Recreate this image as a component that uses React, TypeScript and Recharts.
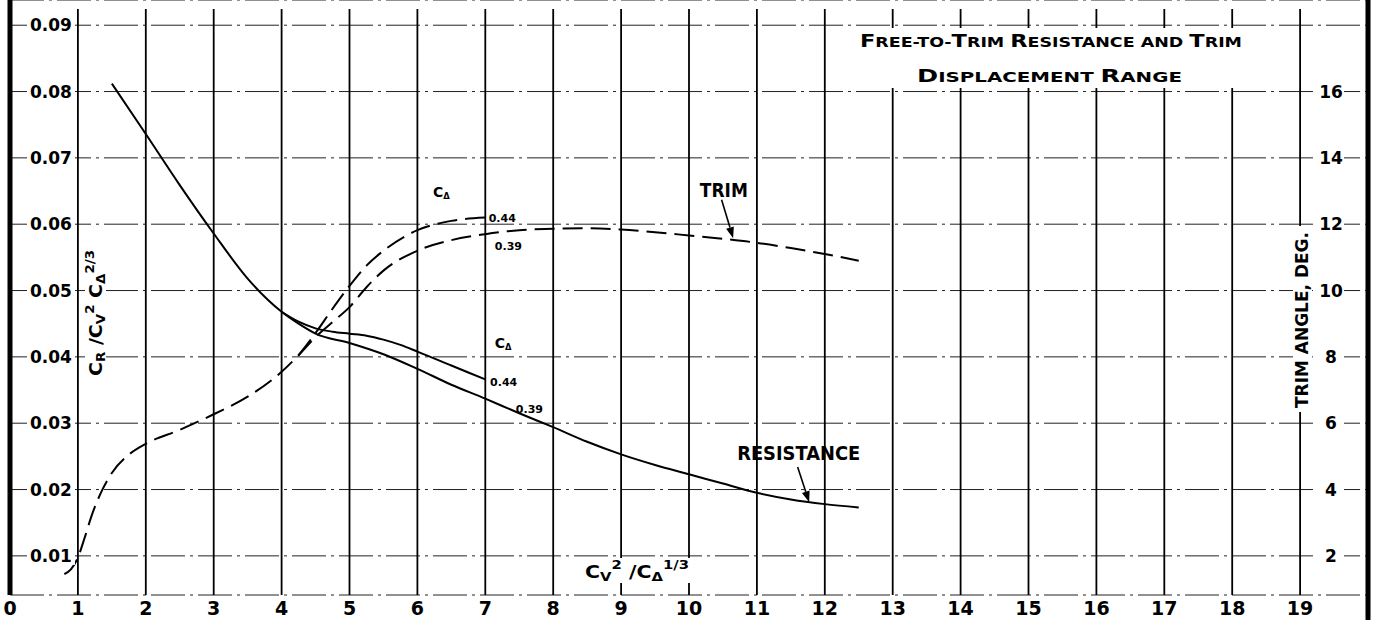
import React from 'react';
import {
  ComposedChart,
  Line,
  XAxis,
  YAxis,
  CartesianGrid,
  ReferenceLine,
  ReferenceDot,
} from 'recharts';

// ---------- data ----------
const xTicks = [0, 1, 2, 3, 4, 5, 6, 7, 8, 9, 10, 11, 12, 13, 14, 15, 16, 17, 18, 19];
const leftTicks = [0.01, 0.02, 0.03, 0.04, 0.05, 0.06, 0.07, 0.08, 0.09];
const rightTicks = [2, 4, 6, 8, 10, 12, 14, 16];

// Resistance, C_delta = 0.39 (full curve)
const resX39 = [1.5, 2, 2.5, 3, 3.5, 4, 4.25, 4.5, 5, 5.5, 6, 6.5, 7, 7.5, 8, 8.5, 9, 9.5, 10, 10.5, 11, 11.5, 12, 12.5];
const res39 = [0.0812, 0.0736, 0.0659, 0.0586, 0.0518, 0.0468, 0.0450, 0.0435, 0.0421, 0.0404, 0.0382, 0.0358, 0.0337, 0.0315, 0.0294, 0.0272, 0.0253, 0.0237, 0.0223, 0.0209, 0.0195, 0.0185, 0.0178, 0.0173];
// Resistance, C_delta = 0.44 (branch)
const resX44 = [4, 4.25, 4.5, 4.75, 5, 5.25, 5.5, 5.75, 6, 6.5, 7];
const res44 = [0.0468, 0.0453, 0.0443, 0.0438, 0.0435, 0.0432, 0.0426, 0.0418, 0.0408, 0.0387, 0.0366];
// Trim angle (deg), C_delta = 0.39 (full curve)
const trimX39 = [0.8, 0.9, 1, 1.1, 1.2, 1.35, 1.5, 1.75, 2, 2.5, 3, 3.5, 4, 4.25, 4.5, 4.75, 5, 5.25, 5.5, 6, 6.5, 7, 7.5, 8, 8.5, 9, 9.5, 10, 10.5, 11, 11.5, 12, 12.5];
const trim39 = [1.45, 1.6, 1.95, 2.55, 3.2, 3.95, 4.5, 5.05, 5.38, 5.8, 6.27, 6.8, 7.55, 8.05, 8.6, 9.05, 9.5, 10.1, 10.6, 11.2, 11.52, 11.7, 11.82, 11.86, 11.88, 11.84, 11.76, 11.66, 11.56, 11.44, 11.28, 11.1, 10.9];
// Trim angle (deg), C_delta = 0.44 (branch)
const trimX44 = [4.25, 4.5, 4.75, 5, 5.25, 5.5, 6, 6.5, 7];
const trim44 = [8.05, 8.72, 9.45, 10.14, 10.75, 11.2, 11.82, 12.1, 12.2];

const toPts = (xs: number[], ys: number[]) => xs.map((x, i) => ({ x, y: ys[i] }));
const resData39 = toPts(resX39, res39);
const resData44 = toPts(resX44, res44);
const trimData39 = toPts(trimX39, trim39);
const trimData44 = toPts(trimX44, trim44);

// ---------- styling ----------
const FONT = "'DejaVu Sans', 'Liberation Sans', sans-serif";
const W = 1376;
const H = 620;

const XTick = (p: any) => (
  <text x={p.x} y={615} textAnchor="middle" fontFamily={FONT} fontWeight="bold" fontSize={19} fill="#000">
    {p.payload.value}
  </text>
);

const LeftTick = (p: any) => (
  <g>
    <rect x={27} y={p.y - 9} width={48} height={18} fill="#fff" />
    <text x={30} y={p.y} dy="0.36em" fontFamily={FONT} fontWeight="bold" fontSize={17} fill="#000">
      {Number(p.payload.value).toFixed(2)}
    </text>
  </g>
);

const RightTick = (p: any) => (
  <g>
    <rect x={1318} y={p.y - 9} width={26} height={18} fill="#fff" />
    <text x={1331} y={p.y} dy="0.36em" textAnchor="middle" fontFamily={FONT} fontWeight="bold" fontSize={17} fill="#000">
      {p.payload.value}
    </text>
  </g>
);

const arrowShape = (p: any) => {
  const { x1, y1, x2, y2 } = p;
  const ang = Math.atan2(y2 - y1, x2 - x1);
  const L = 11;
  const Wd = 4;
  const bx = x2 - L * Math.cos(ang);
  const by = y2 - L * Math.sin(ang);
  const px = -Math.sin(ang) * Wd;
  const py = Math.cos(ang) * Wd;
  return (
    <g>
      <line x1={x1} y1={y1} x2={bx} y2={by} stroke="#000" strokeWidth={1.6} />
      <polygon points={`${x2},${y2} ${bx + px},${by + py} ${bx - px},${by - py}`} fill="#000" />
    </g>
  );
};

const note = (key: string, x: number, y: number, content: React.ReactNode) => (
  <ReferenceDot
    key={key}
    yAxisId="left"
    x={x}
    y={y}
    r={0}
    ifOverflow="visible"
    shape={(p: any) => <g transform={`translate(${p.cx},${p.cy})`}>{content}</g>}
  />
);

const CDelta = ({ size = 14 }: { size?: number }) => (
  <text x={0} y={0} fontFamily={FONT} fontWeight="bold" fontSize={size} fill="#000">
    C<tspan fontSize={size * 0.6} dy={2}>Δ</tspan>
  </text>
);

const small = (s: string) => (
  <text x={0} y={0} fontFamily={FONT} fontWeight="bold" fontSize={11} fill="#000">
    {s}
  </text>
);

export default function App() {
  return (
    <div style={{ position: 'absolute', left: 0, top: 0, width: W, height: H, background: '#fff' }}>
      <div style={{ position: 'absolute', left: 0, top: 0 }}>
        <ComposedChart width={W} height={H} margin={{ top: 0, right: 0, left: 0, bottom: 0 }}>
          <CartesianGrid
            yAxisId="left"
            vertical={false}
            stroke="#222"
            strokeWidth={1}
            strokeDasharray="34 5 3 5"
          />
          <CartesianGrid
            yAxisId="left"
            horizontal={false}
            vertical={(p: any) => (
              <line key={`v-${p.index}-${p.x1}`} x1={p.x1} x2={p.x2} y1={p.y1 + 9} y2={p.y2} stroke="#000" strokeWidth={1.8} />
            )}
          />
          <XAxis
            dataKey="x"
            type="number"
            domain={[0, 20]}
            ticks={xTicks}
            interval={0}
            height={25}
            axisLine={false}
            tickLine={false}
            tick={XTick}
            allowDataOverflow
          />
          <YAxis
            yAxisId="left"
            type="number"
            domain={[0.0041, 0.0938]}
            ticks={leftTicks}
            interval={0}
            width={10}
            axisLine={false}
            tickLine={false}
            tick={LeftTick}
            allowDataOverflow
          />
          <YAxis
            yAxisId="trim"
            orientation="right"
            type="number"
            domain={[0.82, 18.76]}
            ticks={rightTicks}
            interval={0}
            width={8}
            axisLine={false}
            tickLine={false}
            tick={RightTick}
            allowDataOverflow
          />
          <ReferenceLine yAxisId="left" x={0} stroke="#000" strokeWidth={5} />

          <Line data={resData39} dataKey="y" yAxisId="left" type="monotone" stroke="#000" strokeWidth={2} dot={false} isAnimationActive={false} />
          <Line data={resData44} dataKey="y" yAxisId="left" type="monotone" stroke="#000" strokeWidth={2} dot={false} isAnimationActive={false} />
          <Line data={trimData39} dataKey="y" yAxisId="trim" type="monotone" stroke="#000" strokeWidth={2} strokeDasharray="20 8" dot={false} isAnimationActive={false} />
          <Line data={trimData44} dataKey="y" yAxisId="trim" type="monotone" stroke="#000" strokeWidth={2} strokeDasharray="20 8" dot={false} isAnimationActive={false} />

          {/* annotations for trim */}
          {note('tc', 6.23, 0.0641, <CDelta />)}
          {note('t44', 7.05, 0.0603, small('0.44'))}
          {note('t39', 7.14, 0.0561, small('0.39'))}
          {note('tl', 10.16, 0.0641, (
            <text x={0} y={0} fontFamily={FONT} fontWeight="bold" fontSize={19} fill="#000" textLength={48} lengthAdjust="spacingAndGlyphs">TRIM</text>
          ))}
          <ReferenceLine yAxisId="left" segment={[{ x: 10.48, y: 0.0637 }, { x: 10.65, y: 0.0579 }]} shape={arrowShape} ifOverflow="visible" />

          {/* annotations for resistance */}
          {note('rc', 7.14, 0.0413, <CDelta />)}
          {note('r44', 7.07, 0.0356, small('0.44'))}
          {note('r39', 7.45, 0.0315, small('0.39'))}
          {note('rl', 10.71, 0.0245, (
            <text x={0} y={0} fontFamily={FONT} fontWeight="bold" fontSize={20} fill="#000" textLength={123} lengthAdjust="spacingAndGlyphs">RESISTANCE</text>
          ))}
          <ReferenceLine yAxisId="left" segment={[{ x: 11.6, y: 0.0234 }, { x: 11.77, y: 0.0181 }]} shape={arrowShape} ifOverflow="visible" />
        </ComposedChart>
      </div>

      {/* overlay: titles and frame */}
      <svg width={W} height={H} style={{ position: 'absolute', left: 0, top: 0, pointerEvents: 'none' }}>
        {/* right frame */}
        <line x1={1368} y1={0} x2={1368} y2={H} stroke="#000" strokeWidth={5} />

        {/* chart title */}
        <rect x={838} y={28} width={410} height={60} fill="#fff" />
        <text x={860} y={47} fontFamily={FONT} fontWeight="bold" fill="#000" textLength={382} lengthAdjust="spacingAndGlyphs">
          <tspan fontSize={18}>F</tspan>
          <tspan fontSize={14}>REE-TO-</tspan>
          <tspan fontSize={18}>T</tspan>
          <tspan fontSize={14}>RIM </tspan>
          <tspan fontSize={18}>R</tspan>
          <tspan fontSize={14}>ESISTANCE AND </tspan>
          <tspan fontSize={18}>T</tspan>
          <tspan fontSize={14}>RIM</tspan>
        </text>
        <text x={917} y={82} fontFamily={FONT} fontWeight="bold" fill="#000" textLength={265} lengthAdjust="spacingAndGlyphs">
          <tspan fontSize={18}>D</tspan>
          <tspan fontSize={14}>ISPLACEMENT  </tspan>
          <tspan fontSize={18}>R</tspan>
          <tspan fontSize={14}>ANGE</tspan>
        </text>

        {/* x axis title */}
        <rect x={582} y={558} width={112} height={25} fill="#fff" />
        <text x={585} y={578} fontFamily={FONT} fontWeight="bold" fill="#000" textLength={104} lengthAdjust="spacingAndGlyphs">
          <tspan fontSize={18}>C</tspan>
          <tspan fontSize={13} dy={3}>V</tspan>
          <tspan fontSize={13} dy={-12}>2</tspan>
          <tspan fontSize={18} dy={9}> /C</tspan>
          <tspan fontSize={13} dy={3}>Δ</tspan>
          <tspan fontSize={13} dy={-12}>1/3</tspan>
        </text>

        {/* left axis title */}
        <rect x={85} y={246} width={21} height={134} fill="#fff" />
        <text
          x={102}
          y={313}
          textAnchor="middle"
          transform="rotate(-90 102 313)"
          fontFamily={FONT}
          fontWeight="bold"
          fill="#000"
          textLength={126}
          lengthAdjust="spacingAndGlyphs"
        >
          <tspan fontSize={17}>C</tspan>
          <tspan fontSize={12} dy={3}>R</tspan>
          <tspan fontSize={17} dy={-3}> /C</tspan>
          <tspan fontSize={12} dy={3}>V</tspan>
          <tspan fontSize={12} dy={-11}>2</tspan>
          <tspan fontSize={17} dy={8}> C</tspan>
          <tspan fontSize={12} dy={3}>Δ</tspan>
          <tspan fontSize={12} dy={-11}>2/3</tspan>
        </text>

        {/* right axis title */}
        <rect x={1293} y={226} width={19} height={186} fill="#fff" />
        <text
          x={1308}
          y={320}
          textAnchor="middle"
          transform="rotate(-90 1308 320)"
          fontFamily={FONT}
          fontWeight="bold"
          fontSize={17}
          fill="#000"
          textLength={176}
          lengthAdjust="spacingAndGlyphs"
        >
          TRIM ANGLE, DEG.
        </text>
      </svg>
    </div>
  );
}
